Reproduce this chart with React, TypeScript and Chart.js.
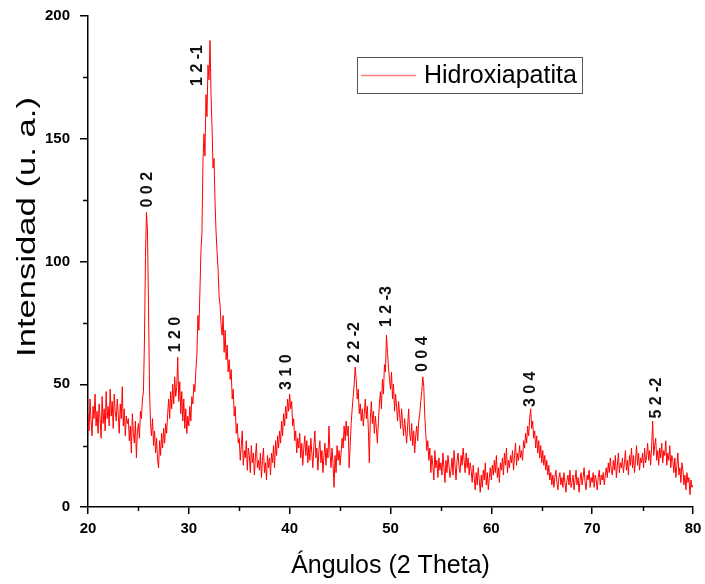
import React, { useEffect, useRef } from "react";
import { Chart, registerables } from "chart.js";

Chart.register(...registerables);

const SERIES_LABEL = "Hidroxiapatita";
const X_TITLE = "Ángulos (2 Theta)";
const Y_TITLE = "Intensidad (u. a.)";

const ANGLE_START = 20;
const ANGLE_STEP = 0.1;

// Intensity, one row per degree (x.0 … x.9)
const intensity20s = [
  38, 31, 44, 35, 29, 41, 36, 46, 33, 39,
  30, 42, 36, 28, 45, 34, 40, 31, 47, 36,
  41, 33, 48, 37, 43, 32, 46, 39, 35, 44,
  38, 30, 42, 36, 49, 33, 40, 29, 37, 34,
  36, 27, 33, 22, 38, 30, 26, 35, 20, 31,
  34, 28, 39, 36, 44, 47, 68, 102, 120, 112,
  82, 48, 34, 29, 36, 25, 31, 22, 28, 19,
  16, 27, 21, 30, 24, 32, 26, 34, 30, 38,
  44, 36, 47, 40, 50, 42, 53, 45, 49, 61,
  43, 51, 38, 47, 35, 44, 32, 40, 30, 37,
];
const intensity30s = [
  33, 41, 35, 45, 42, 50, 47, 56, 62, 78,
  72, 88, 104, 112, 140, 152, 143, 168, 159, 180,
  174, 190, 168, 155, 138, 142, 124, 112, 104, 97,
  86, 82, 74, 70, 78, 63, 72, 60, 66, 55,
  60, 52, 56, 44, 48, 37, 41, 30, 34, 26,
  28, 19, 25, 31, 17, 23, 20, 27, 15, 24,
  21, 14, 25, 18, 22, 13, 20, 26, 16, 19,
  15, 22, 12, 19, 24, 14, 18, 11, 21, 16,
  20, 13, 22, 18, 25, 16, 27, 21, 29, 24,
  31, 26, 35, 29, 38, 33, 41, 36, 44, 39,
];
const intensity40s = [
  46, 40, 43, 33, 36, 27, 31, 22, 28, 24,
  30, 20, 26, 17, 24, 29, 21, 27, 18, 25,
  19, 28, 22, 16, 25, 31, 20, 24, 15, 23,
  27, 18, 23, 14, 21, 26, 17, 24, 20, 33,
  22, 16, 24, 18, 8, 21, 14, 25, 19, 23,
  17, 22, 28, 24, 33, 27, 35, 29, 33, 16,
  25, 34, 40, 45, 50, 57, 52, 44, 48, 38,
  42, 35, 40, 33, 38, 44, 36, 41, 32, 18,
  36, 43, 34, 39, 30, 37, 32, 26, 35, 42,
  47, 40, 52, 46, 58, 55, 70, 63, 57, 52,
];
const intensity50s = [
  48, 55, 44, 50, 39, 46, 41, 35, 43, 38,
  32, 40, 34, 29, 36, 31, 26, 33, 40, 30,
  27, 34, 25, 31, 22, 29, 33, 27, 35, 38,
  43, 47, 53, 49, 37, 30, 23, 27, 19, 24,
  14, 21, 17, 11, 23, 16, 19, 12, 20, 15,
  18, 13, 22, 16, 10, 19, 14, 21, 17, 12,
  15, 20, 13, 23, 17, 11, 19, 22, 16, 14,
  21, 17, 24, 19, 14, 22, 16, 20, 13, 18,
  15, 10, 17, 12, 7, 14, 9, 16, 11, 6,
  13, 8, 15, 11, 18, 9, 14, 7, 12, 16,
];
const intensity60s = [
  11, 17, 13, 19, 14, 21, 12, 16, 10, 18,
  15, 20, 13, 22, 17, 24, 14, 19, 16, 21,
  18, 23, 15, 21, 26, 17, 22, 19, 25, 20,
  23, 19, 27, 24, 30, 26, 33, 29, 36, 40,
  32, 35, 28, 31, 24, 29, 22, 27, 20, 25,
  18, 23, 17, 21, 15, 19, 13, 17, 11, 14,
  9, 13, 8, 12, 15, 10, 7, 12, 14, 9,
  12, 8, 14, 10, 6, 11, 13, 9, 15, 8,
  10, 13, 7, 11, 15, 9, 12, 6, 11, 14,
  9, 12, 16, 10, 7, 13, 11, 15, 8, 12,
];
const intensity70s = [
  10, 14, 8, 13, 11, 7, 12, 15, 9, 13,
  11, 14, 9, 13, 16, 12, 18, 14, 20, 15,
  13, 19, 15, 21, 12, 17, 22, 14, 18, 16,
  20, 14, 18, 23, 15, 19, 13, 21, 17, 24,
  16, 21, 14, 19, 25, 17, 22, 15, 20, 18,
  22, 16, 24, 18, 21, 26, 19, 23, 17, 25,
  35, 21, 25, 28, 19, 23, 17, 24, 20, 26,
  18, 23, 21, 27, 17, 22, 19, 25, 16, 21,
  19, 14, 20, 12, 17, 22, 13, 16, 10, 18,
  15, 9, 13, 7, 14, 10, 12, 5, 11, 8,
];
const intensity80 = [9];

// Miller-index annotations: text, angle, intensity where the text starts
const peakLabels = ["0 0 2", "1 2 0", "1 2 -1", "3 1 0", "2 2 -2", "1 2 -3", "0 0 4", "3 0 4", "5 2 -2"];
const peakAngles = [25.8, 28.55, 30.75, 39.6, 46.35, 49.55, 53.1, 63.8, 76.25];
const peakLabelBase = [122, 63, 171.5, 47.7, 58.7, 73.3, 55, 40.7, 36];

const X_MIN = 20;
const X_MAX = 80;
const X_STEP = 10;
const Y_MIN = 0;
const Y_MAX = 200;
const Y_STEP = 50;
const xMinorTicks = [25, 35, 45, 55, 65, 75];
const yMinorTicks = [25, 75, 125, 175];

const FONT = '"Liberation Sans", Arial, Helvetica, sans-serif';

const decorations = {
  id: "decorations",
  afterDraw(chart: any) {
    const ctx: CanvasRenderingContext2D = chart.ctx;
    const xs = chart.scales.x;
    const ys = chart.scales.y;
    const area = chart.chartArea;
    ctx.save();

    // minor ticks
    ctx.strokeStyle = "#000";
    ctx.lineWidth = 1.5;
    xMinorTicks.forEach((v) => {
      const px = Math.round(xs.getPixelForValue(v)) + 0.5;
      ctx.beginPath();
      ctx.moveTo(px, area.bottom);
      ctx.lineTo(px, area.bottom + 4);
      ctx.stroke();
    });
    yMinorTicks.forEach((v) => {
      const py = Math.round(ys.getPixelForValue(v)) + 0.5;
      ctx.beginPath();
      ctx.moveTo(area.left, py);
      ctx.lineTo(area.left - 5, py);
      ctx.stroke();
    });

    // peak annotations
    ctx.fillStyle = "#111";
    ctx.font = `bold 16px ${FONT}`;
    ctx.textAlign = "left";
    ctx.textBaseline = "middle";
    peakLabels.forEach((t, i) => {
      const px = xs.getPixelForValue(peakAngles[i]);
      const py = ys.getPixelForValue(peakLabelBase[i]);
      ctx.save();
      ctx.translate(px, py);
      ctx.rotate(-Math.PI / 2);
      ctx.fillText(t, 0, 1);
      ctx.restore();
    });

    // legend box
    const lx = area.left + 269;
    const ly = area.top + 41;
    const lw = 225;
    const lh = 36;
    ctx.fillStyle = "#fff";
    ctx.fillRect(lx, ly, lw, lh);
    ctx.strokeStyle = "#555";
    ctx.lineWidth = 1;
    ctx.strokeRect(lx + 0.5, ly + 0.5, lw, lh);
    ctx.strokeStyle = "#ff8080";
    ctx.lineWidth = 1.5;
    ctx.beginPath();
    ctx.moveTo(lx + 4, ly + 18.5);
    ctx.lineTo(lx + 59, ly + 18.5);
    ctx.stroke();
    ctx.fillStyle = "#000";
    ctx.font = `25px ${FONT}`;
    ctx.textAlign = "left";
    ctx.textBaseline = "middle";
    ctx.fillText(chart.data.datasets[0].label, lx + 67, ly + 19);

    // axis titles
    ctx.fillStyle = "#000";
    ctx.font = `25px ${FONT}`;
    ctx.textAlign = "center";
    ctx.textBaseline = "alphabetic";
    ctx.fillText(X_TITLE, (area.left + area.right) / 2, 573);

    ctx.save();
    ctx.translate(35, 227);
    ctx.rotate(-Math.PI / 2);
    const w = ctx.measureText(Y_TITLE).width;
    ctx.scale(260 / w, 1);
    ctx.fillText(Y_TITLE, 0, 0);
    ctx.restore();

    ctx.restore();
  },
};

export default function App() {
  const canvasRef = useRef<HTMLCanvasElement | null>(null);

  useEffect(() => {
    const canvas = canvasRef.current;
    if (!canvas) return;
    const intensity = [
      ...intensity20s,
      ...intensity30s,
      ...intensity40s,
      ...intensity50s,
      ...intensity60s,
      ...intensity70s,
      ...intensity80,
    ];
    const points = intensity.map((v, i) => ({
      x: Math.round((ANGLE_START + i * ANGLE_STEP) * 10) / 10,
      y: v,
    }));

    const chart = new Chart(canvas, {
      type: "line",
      data: {
        datasets: [
          {
            label: SERIES_LABEL,
            data: points,
            borderColor: "#ff0000",
            borderWidth: 1,
            pointRadius: 0,
            tension: 0,
            fill: false,
          },
        ],
      },
      options: {
        animation: false,
        responsive: false,
        maintainAspectRatio: false,
        layout: { padding: { left: 0, right: 12, top: 16, bottom: 0 } },
        plugins: {
          legend: { display: false },
          tooltip: { enabled: false },
        },
        scales: {
          x: {
            type: "linear",
            min: X_MIN,
            max: X_MAX,
            afterFit: (s: any) => {
              s.height = 77;
              s.paddingLeft = 0;
              s.paddingRight = 0;
            },
            ticks: {
              stepSize: X_STEP,
              color: "#000",
              font: { family: FONT, size: 15, weight: "bold" },
              padding: 6,
              maxRotation: 0,
            },
            grid: {
              drawOnChartArea: false,
              drawTicks: true,
              tickLength: 7,
              color: "#000",
              lineWidth: 1.5,
            },
            border: { color: "#000", width: 1.5 },
          },
          y: {
            type: "linear",
            min: Y_MIN,
            max: Y_MAX,
            afterFit: (s: any) => {
              s.width = 88;
              s.paddingTop = 0;
              s.paddingBottom = 0;
            },
            ticks: {
              stepSize: Y_STEP,
              color: "#000",
              font: { family: FONT, size: 15, weight: "bold" },
              padding: 10,
            },
            grid: {
              drawOnChartArea: false,
              drawTicks: true,
              tickLength: 8,
              color: "#000",
              lineWidth: 1.5,
            },
            border: { color: "#000", width: 1.5 },
          },
        },
      },
      plugins: [decorations],
    });

    return () => chart.destroy();
  }, []);

  return (
    <div style={{ position: "absolute", left: 0, top: 0, width: 705, height: 584, background: "#fff" }}>
      <canvas ref={canvasRef} width={705} height={584} style={{ display: "block" }} />
    </div>
  );
}
